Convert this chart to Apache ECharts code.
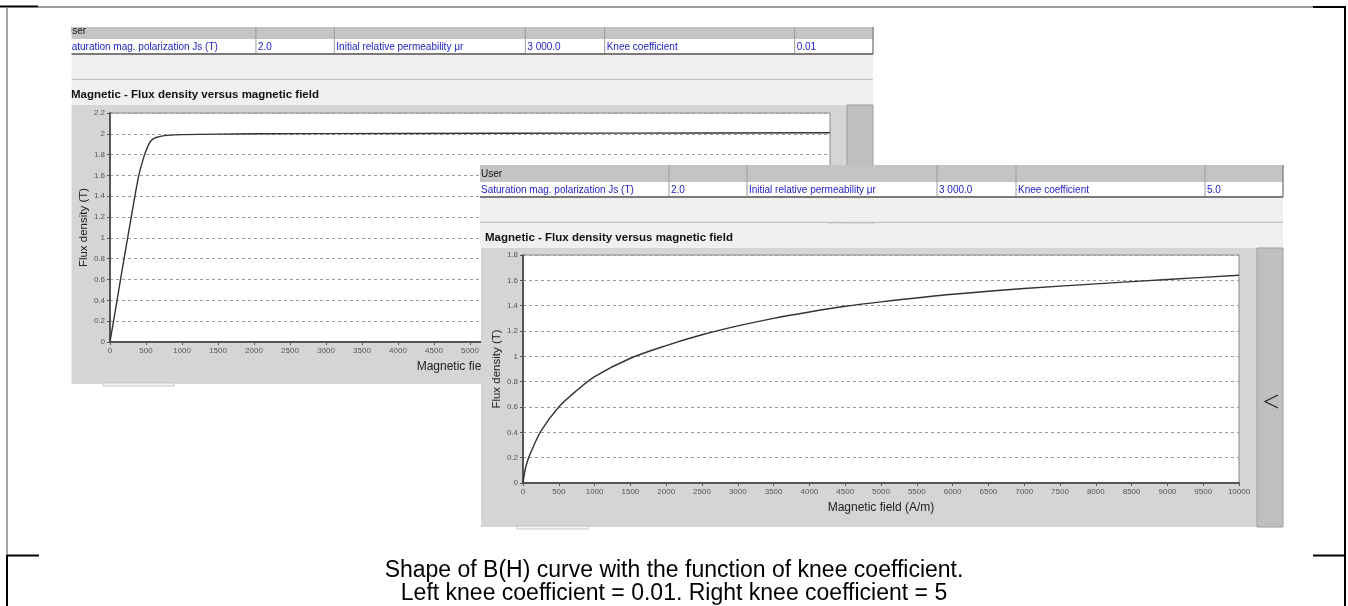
<!DOCTYPE html>
<html>
<head>
<meta charset="utf-8">
<script src="https://cdn.jsdelivr.net/npm/echarts@6/dist/echarts.min.js"></script>
<style>
  html, body { margin: 0; padding: 0; background: #fff; }
  #chart { width: 1348px; height: 606px; }
</style>
</head>
<body>
<div id="chart"></div>
<script>
// ---------- data ----------
const leftH  = [0, 100, 200, 300, 400, 480, 520, 560, 600, 650, 700, 800, 1000, 1500, 2000, 4000, 7000, 10000];
const leftB  = [0, 0.41, 0.82, 1.22, 1.6, 1.8, 1.87, 1.925, 1.952, 1.967, 1.976, 1.985, 1.992, 1.997, 2.0, 2.003, 2.007, 2.01];
const rightH = [0, 20, 50, 100, 250, 500, 750, 1000, 1500, 2000, 2500, 3000, 3500, 4000, 4500, 5000, 6000, 7000, 8000, 9000, 10000];
const rightB = [0, 0.075, 0.15, 0.23, 0.41, 0.6, 0.73, 0.84, 0.985, 1.085, 1.17, 1.24, 1.30, 1.35, 1.395, 1.43, 1.49, 1.536, 1.572, 1.607, 1.64];

const tableHeader = 'User';
const paramNames  = ['Saturation mag. polarization Js (T)', 'Initial relative permeability μr', 'Knee coefficient'];
const leftParams  = ['2.0', '3 000.0', '0.01'];
const rightParams = ['2.0', '3 000.0', '5.0'];
const chartTitle  = 'Magnetic - Flux density versus magnetic field';
const xAxisTitle  = 'Magnetic field (A/m)';
const yAxisTitle  = 'Flux density (T)';
const leftYMax = 2.2, rightYMax = 1.8, xMax = 10000;
const captionLines = ['Shape of B(H) curve with the function of knee coefficient.',
                      'Left knee coefficient = 0.01. Right knee coefficient = 5'];

// ---------- helpers ----------
const FF = '"Liberation Sans", Arial, sans-serif';
const G = [];
function rect(x, y, w, h, fill, z, stroke, lw) {
  G.push({ type: 'rect', z: z, silent: true, shape: { x: x, y: y, width: w, height: h },
           style: { fill: fill, stroke: stroke || null, lineWidth: lw || 0 } });
}
function line(x1, y1, x2, y2, color, w, z) {
  G.push({ type: 'line', z: z, silent: true, shape: { x1: x1, y1: y1, x2: x2, y2: y2 },
           style: { stroke: color, lineWidth: w } });
}
function text(x, y, s, size, color, z, opts) {
  opts = opts || {};
  G.push({ type: 'text', z: z, silent: true, x: x, y: y,
           style: { text: s, fill: color, fontSize: size, fontFamily: FF, fontWeight: opts.bold ? 'bold' : 'normal',
                    textAlign: opts.align || 'left', textVerticalAlign: 'middle', verticalAlign: 'middle' } });
}

// a screenshot panel (table + title + chart frame) at origin ox, oy, horizontal scale s
function panel(ox, oy, s, params, z, firstShift) {
  const W = 803 * s;
  const X = c => ox + c * s;
  const cols = [189, 267, 457, 536, 725];
  rect(ox, oy, W, 17, '#c4c4c4', z);
  rect(ox, oy + 17, W, 15, '#ffffff', z);
  cols.forEach(c => line(X(c), oy, X(c), oy + 32, '#9a9a9a', 1, z));
  line(ox + W, oy, ox + W, oy + 32, '#8a8a8a', 1.5, z);
  line(ox, oy + 32, ox + W, oy + 32, '#7a7a7a', 2, z);
  text(ox + 1 + firstShift, oy + 9.5, tableHeader, 10, '#111', z);
  const starts = [1 + firstShift, 191, 269, 459, 538, 727];
  const cells = [paramNames[0], params[0], paramNames[1], params[1], paramNames[2], params[2]];
  cells.forEach((t, i) => text(X(starts[i]), oy + 25, t, 10, '#1c1cc4', z));
  rect(ox, oy + 33, W, 24, '#f0f0f0', z);
  line(ox, oy + 57.5, ox + W, oy + 57.5, '#c2c2c2', 1.5, z);
  rect(ox, oy + 58.5, W, 24.5, '#f0f0f0', z);
  text(ox + 5, oy + 73, chartTitle, 11.5, '#111', z, { bold: true });
  rect(ox + 1, oy + 83, W - 1, 279, '#d5d5d5', z);
  rect(ox + W - 26, oy + 83, 26, 279, '#bfbfbf', z, '#9c9c9c', 1);
  G.push({ type: 'polyline', z: z, silent: true,
           shape: { points: [[ox + W - 5, oy + 230], [ox + W - 18, oy + 236.5], [ox + W - 5, oy + 243]] },
           style: { stroke: '#222', lineWidth: 1.2, fill: null } });
  rect(X(37), oy + 361, 71, 3, '#f6f6f6', z, '#bbbbbb', 0.8);
}

// ---------- page frame & caption ----------
line(0, 6.5, 38, 6.5, '#000', 2, 0);
line(38, 7, 1313, 7, '#777', 1.5, 0);
line(1313, 7, 1346, 7, '#000', 2, 0);
line(7, 7, 7, 555, '#888', 1.5, 0);
line(7, 555, 7, 606, '#000', 2, 0);
line(1345, 6, 1345, 606, '#000', 2, 0);
line(7, 555.5, 39, 555.5, '#000', 2, 0);
line(1313, 555.5, 1345, 555.5, '#000', 2, 0);
text(674, 571, captionLines[0], 23, '#000', 0, { align: 'center' });
text(674, 594, captionLines[1], 23, '#000', 0, { align: 'center' });

// ---------- left (under) screenshot ----------
panel(66, 22, 1.005, leftParams, 1, -2);
// crop of the left screenshot (top and left edges cut off)
rect(8, 9, 63.5, 400, '#ffffff', 2);
rect(8, 9, 880, 18, '#ffffff', 2);

// ---------- right (top) screenshot ----------
panel(480, 165, 1, rightParams, 10, 0);

// ---------- axes ----------
function xAxisDef(gi, z) {
  return {
    type: 'value', gridIndex: gi, z: z, min: 0, max: xMax, interval: 500,
    name: xAxisTitle, nameLocation: 'middle', nameGap: 19, nameMoveOverlap: false,
    nameTextStyle: { fontSize: 12, color: '#222', fontFamily: FF },
    axisLine: { show: true, onZero: false, lineStyle: { color: '#555', width: 2 } },
    axisTick: { show: true, length: 3, lineStyle: { color: '#555' } },
    axisLabel: { fontSize: 8, color: '#555', margin: 5, fontFamily: FF, hideOverlap: false,
                 formatter: v => String(v) },
    splitLine: { show: false }
  };
}
function yAxisDef(gi, max, z) {
  return {
    type: 'value', gridIndex: gi, z: z, min: 0, max: max, interval: 0.2,
    name: yAxisTitle, nameLocation: 'middle', nameGap: 20, nameRotate: 90, nameMoveOverlap: false,
    nameTextStyle: { fontSize: 11.5, color: '#222', fontFamily: FF },
    axisLine: { show: true, lineStyle: { color: '#555', width: 2 } },
    axisTick: { show: true, length: 3, lineStyle: { color: '#555' } },
    axisLabel: { fontSize: 8, color: '#555', margin: 5, fontFamily: FF,
                 formatter: v => String(Math.round(v * 10) / 10) },
    splitLine: { show: true, lineStyle: { color: '#9a9a9a', width: 1, type: [3, 3] } }
  };
}
const zip = (a, b) => a.map((v, i) => [v, b[i]]);

const option = {
  animation: false,
  backgroundColor: '#ffffff',
  grid: [
    { left: 110, top: 113, width: 720, height: 229, show: true, backgroundColor: '#fff',
      borderColor: '#8a8a8a', borderWidth: 1, z: 3 },
    { left: 523, top: 255, width: 716, height: 228, show: true, backgroundColor: '#fff',
      borderColor: '#8a8a8a', borderWidth: 1, z: 11 }
  ],
  xAxis: [xAxisDef(0, 4), xAxisDef(1, 12)],
  yAxis: [yAxisDef(0, leftYMax, 4), yAxisDef(1, rightYMax, 12)],
  series: [
    { type: 'line', xAxisIndex: 0, yAxisIndex: 0, z: 5, data: zip(leftH, leftB),
      showSymbol: false, smooth: 0.25, silent: true, lineStyle: { color: '#333', width: 1.4 } },
    { type: 'line', xAxisIndex: 1, yAxisIndex: 1, z: 13, data: zip(rightH, rightB),
      showSymbol: false, smooth: 0.3, silent: true, lineStyle: { color: '#333', width: 1.4 } }
  ],
  graphic: { elements: G }
};

const chart = echarts.init(document.getElementById('chart'), null, { renderer: 'canvas' });
chart.setOption(option);
</script>
</body>
</html>
